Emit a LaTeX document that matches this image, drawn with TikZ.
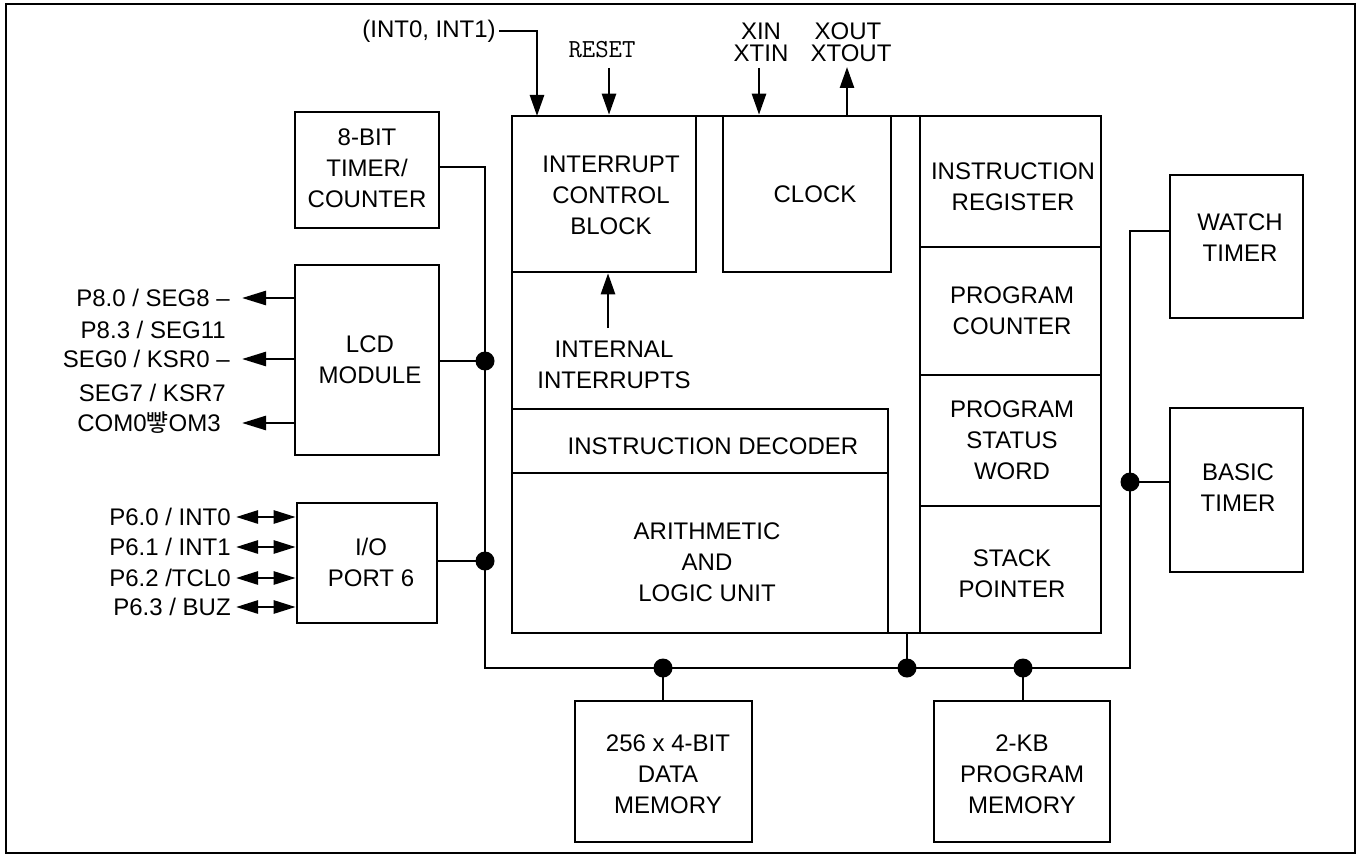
\documentclass[tikz,border=0pt]{standalone}
\usepackage{fontspec}
\setmainfont{Liberation Sans}
\newfontfamily\krfont{Noto Sans CJK KR}
\usetikzlibrary{arrows.meta,fit}
\begin{document}
\begin{tikzpicture}[x=0.5pt,y=-0.5pt,line width=1.3pt,
  box/.style={draw,inner sep=0pt},
  txt/.style={align=center,inner sep=1pt,font=\fontsize{12pt}{15.5pt}\selectfont},
  mono/.style={inner sep=1pt,font=\ttfamily\fontsize{13pt}{15pt}\selectfont},
  arr/.style={-{Triangle[length=10.5pt,width=7pt]}},
  arrL/.style={-{Triangle[length=12pt,width=7pt]}},
  arrD/.style={{Triangle[length=11pt,width=6.5pt]}-{Triangle[length=11pt,width=6.5pt]}},
  dot/.style={circle,fill,inner sep=0pt,minimum size=9.5pt}]
\useasboundingbox (0,0) rectangle (1359,856);
\draw[line width=1pt] (6,4) rectangle (1355,853);

% left blocks
\node[box,fit={(295,112) (439,228)}] (tmr) {};
\node[txt] (tmrT) at (367,168) {8-BIT\\TIMER/\\COUNTER};
\node[box,fit={(295,265) (439,455)}] (lcd) {};
\node[txt] (lcdT) at (370,360) {LCD\\MODULE};
\node[box,fit={(297,503) (437,623)}] (io) {};
\node[txt] (ioT) at (371,562) {I/O\\PORT 6};

% CPU core
\node[box,fit={(512,116) (1101,633)}] (cpu) {};
\node[box,fit={(512,116) (696,272)}] (icb) {};
\node[txt] (icbT) at (611,195) {INTERRUPT\\CONTROL\\BLOCK};
\node[box,fit={(723,116) (891,272)}] (clk) {};
\node[txt] (clkT) at (815,194) {CLOCK};
\node[box,fit={(920,116) (1101,247)}] (ir) {};
\node[txt] (irT) at (1013,187) {INSTRUCTION\\REGISTER};
\node[box,fit={(920,247) (1101,375)}] (pc) {};
\node[txt] (pcT) at (1012,311) {PROGRAM\\COUNTER};
\node[box,fit={(920,375) (1101,506)}] (psw) {};
\node[txt] (pswT) at (1012,440) {PROGRAM\\STATUS\\WORD};
\node[box,fit={(920,506) (1101,633)}] (sp) {};
\node[txt] (spT) at (1012,574) {STACK\\POINTER};
\node[box,fit={(512,409) (888,473)}] (dec) {};
\node[txt] (decT) at (713,446) {INSTRUCTION DECODER};
\node[box,fit={(512,473) (888,633)}] (alu) {};
\node[txt] (aluT) at (707,562) {ARITHMETIC\\AND\\LOGIC UNIT};
\node[txt] (iiT) at (614,365) {INTERNAL\\INTERRUPTS};

% right blocks
\node[box,fit={(1170,175) (1303,318)}] (wt) {};
\node[txt] (wtT) at (1240,238) {WATCH\\TIMER};
\node[box,fit={(1170,408) (1303,572)}] (bt) {};
\node[txt] (btT) at (1238,488) {BASIC\\TIMER};

% memories
\node[box,fit={(575,701) (752,842)}] (dm) {};
\node[txt] (dmT) at (668,774) {256 x 4-BIT\\DATA\\MEMORY};
\node[box,fit={(934,701) (1110,842)}] (pm) {};
\node[txt] (pmT) at (1022,774) {2-KB\\PROGRAM\\MEMORY};

% top signals
\node[txt,anchor=east] (intl) at (499,31) {(INT0, INT1)};
\coordinate (intin) at (537,116);
\draw[arr] (intl.east) -| (intin);
\node[mono] (rst) at (602,50) {RESET};
\coordinate (rstt) at (609,68);
\draw[arr] (rstt) -- (icb.north -| rstt);
\node[txt] (xin) at (761,31) {XIN};
\node[txt] (xtin) at (761,53) {XTIN};
\coordinate (xint) at (759,68);
\draw[arr] (xint) -- (clk.north -| xint);
\node[txt] (xout) at (848,31) {XOUT};
\node[txt] (xtout) at (851,53) {XTOUT};
\coordinate (xoutt) at (847,67);
\draw[arr] (clk.north -| xoutt) -- (xoutt);
\coordinate (iit) at (608,328);
\draw[arr] (iit) -- (icb.south -| iit);

% LCD outputs
\node[txt,anchor=east] (l1) at (233,298) {P8.0 / SEG8 –};
\node[txt,anchor=east] (l2) at (229,330) {P8.3 / SEG11};
\node[txt,anchor=east] (l3) at (233,359) {SEG0 / KSR0 –};
\node[txt,anchor=east] (l4) at (229,393) {SEG7 / KSR7};
\node[txt,anchor=east] (l5) at (224,423) {COM0{\krfont\symbol{"BEB3}}OM3};
\coordinate (a1) at (242,298);
\coordinate (a2) at (242,359);
\coordinate (a3) at (242,423);
\draw[arrL] (lcd.west |- a1) -- (a1);
\draw[arrL] (lcd.west |- a2) -- (a2);
\draw[arrL] (lcd.west |- a3) -- (a3);

% IO port
\node[txt,anchor=east] (p0) at (234,517) {P6.0 / INT0};
\node[txt,anchor=east] (p1) at (234,547) {P6.1 / INT1};
\node[txt,anchor=east] (p2) at (234,578) {P6.2 /TCL0};
\node[txt,anchor=east] (p3) at (234,607) {P6.3 / BUZ};
\coordinate (b0) at (236,517);
\coordinate (b1) at (236,547);
\coordinate (b2) at (236,578);
\coordinate (b3) at (236,607);
\draw[arrD] (b0) -- (io.west |- b0);
\draw[arrD] (b1) -- (io.west |- b1);
\draw[arrD] (b2) -- (io.west |- b2);
\draw[arrD] (b3) -- (io.west |- b3);

% bus
\coordinate (busTL) at (485,167);
\coordinate (busBL) at (485,668);
\coordinate (busBR) at (1130,668);
\coordinate (busTR) at (1130,231);
\draw (tmr.east |- busTL) -- (busTL) -- (busBL) -- (busBR) -- (busTR) -- (wt.west |- busTR);
\coordinate (jl) at (485,361);
\coordinate (ji) at (485,561);
\coordinate (jc) at (907,668);
\coordinate (jd) at (663,668);
\coordinate (jp) at (1023,668);
\coordinate (jb) at (1130,482);
\draw (lcd.east |- jl) -- (jl);
\draw (io.east |- ji) -- (ji);
\draw (cpu.south -| jc) -- (jc);
\draw (jd) -- (dm.north -| jd);
\draw (jp) -- (pm.north -| jp);
\draw (jb) -- (bt.west |- jb);
\node[dot] (dl) at (jl) {};
\node[dot] (di) at (ji) {};
\node[dot] (dc) at (jc) {};
\node[dot] (dd) at (jd) {};
\node[dot] (dp) at (jp) {};
\node[dot] (db) at (jb) {};
\end{tikzpicture}
\end{document}
